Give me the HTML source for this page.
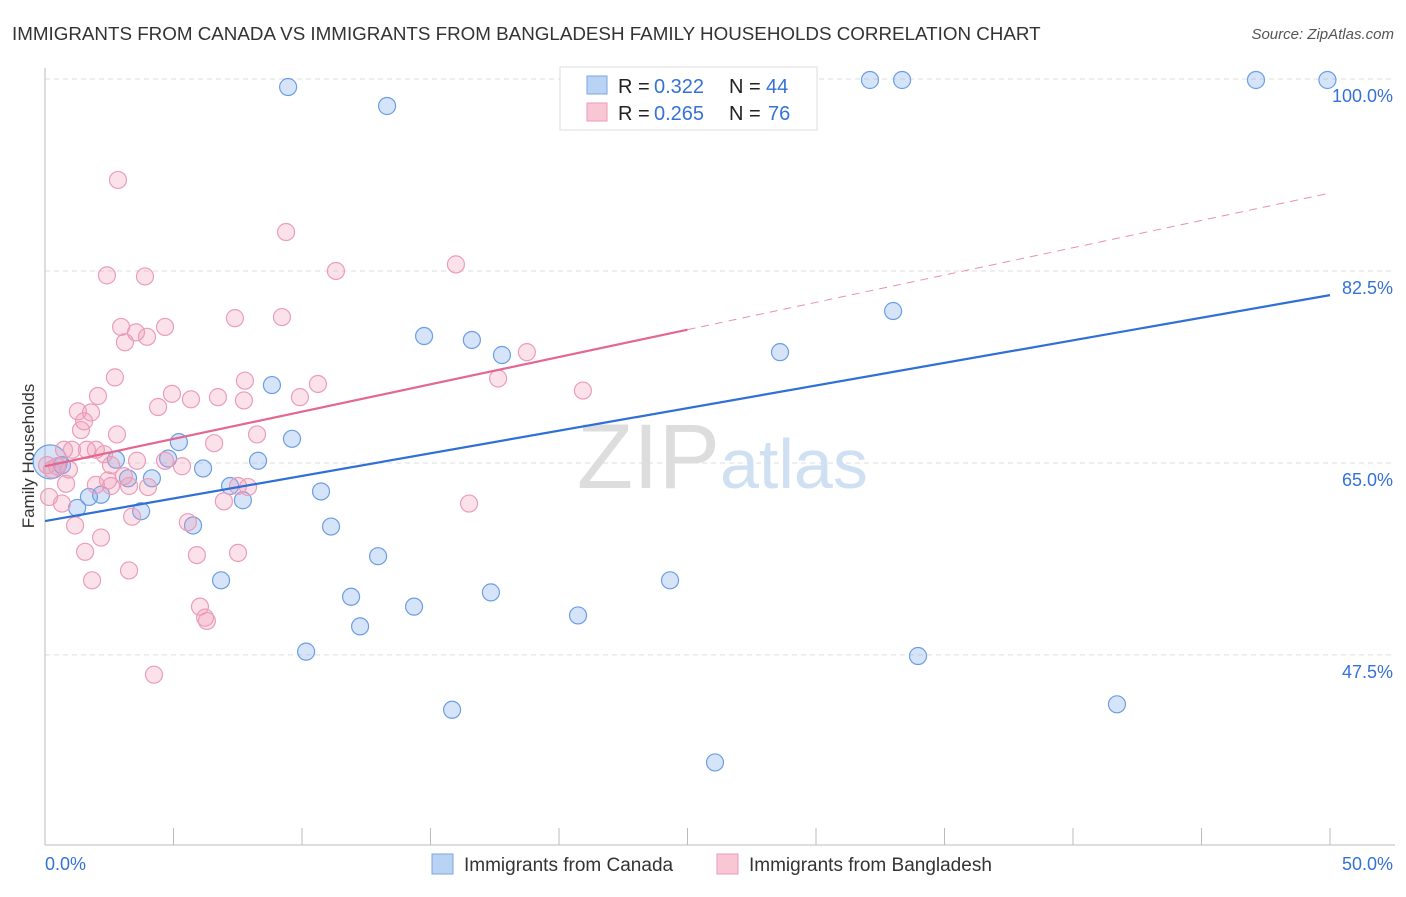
<!DOCTYPE html>
<html><head><meta charset="utf-8"><style>
body{margin:0;background:#fff;font-family:"Liberation Sans",sans-serif}
svg text{font-family:"Liberation Sans",sans-serif}
</style></head><body>
<svg id="chart" width="1406" height="892">
<text x="12" y="40" font-size="18.8" fill="#333">IMMIGRANTS FROM CANADA VS IMMIGRANTS FROM BANGLADESH FAMILY HOUSEHOLDS CORRELATION CHART</text>
<text x="1394" y="39" font-size="15" fill="#555" font-style="italic" text-anchor="end">Source: ZipAtlas.com</text>
<g id="grid"></g>
<text x="720" y="488" font-size="92" fill="#ddd" text-anchor="end" font-family="Liberation Serif">ZIP</text>
<text x="720" y="488" font-size="70" fill="#cfe0f3">atlas</text>
<g id="axes"></g>
<text x="34" y="456" font-size="17" fill="#333" text-anchor="middle" transform="rotate(-90 34 456)">Family Households</text>
<g id="marks"></g>
<g>
<rect x="560" y="67" width="257" height="63" fill="#fff" stroke="#ddd"/>
<rect x="587" y="76" width="20" height="18" fill="#b9d3f5" stroke="#7aa6e3"/>
<rect x="587" y="103" width="20" height="18" fill="#f9c6d5" stroke="#ee9ab6"/>
<text x="618" y="93" font-size="20" fill="#222">R = <tspan x="654" fill="#3572d6">0.322</tspan><tspan x="729">N = </tspan><tspan x="766" fill="#3572d6">44</tspan></text>
<text x="618" y="120" font-size="20" fill="#222">R = <tspan x="654" fill="#3572d6">0.265</tspan><tspan x="729">N = </tspan><tspan x="768" fill="#3572d6">76</tspan></text>
</g>
<g>
<rect x="432" y="854" width="21" height="20" fill="#b9d3f5" stroke="#7aa6e3"/>
<text x="464" y="871" font-size="19" fill="#333">Immigrants from Canada</text>
<rect x="717" y="854" width="21" height="20" fill="#f9c6d5" stroke="#ee9ab6"/>
<text x="749" y="871" font-size="19" fill="#333">Immigrants from Bangladesh</text>
</g>
</svg>
<script>
const yTicks=[100,82.5,65,47.5];
const yTickLabels=["100.0%","82.5%","65.0%","47.5%"];
const xTickLabels=["0.0%","50.0%"];
const canadaX=[9.46,13.31,32.10,33.35,47.12,49.9,33.0,14.75,16.61,17.78,28.6,8.83,9.61,5.21,4.79,8.29,2.76,6.15,4.16,3.23,7.2,7.7,10.74,2.18,1.71,1.25,3.74,5.76,11.13,12.96,6.85,24.32,17.35,11.91,14.36,20.74,12.26,10.16,33.97,15.84,41.71,26.07,0.2,0.66];
const canadaY=[99.27,97.54,99.91,99.91,99.91,99.91,78.85,76.57,76.21,74.84,75.1,72.1,67.2,66.9,65.4,65.2,65.3,64.5,63.6,63.6,62.9,61.6,62.4,62.1,61.9,60.9,60.6,59.3,59.2,56.5,54.3,54.3,53.2,52.8,51.9,51.1,50.1,47.8,47.4,42.5,43.0,37.7,65.1,64.8];
const bangX=[2.84,9.38,11.32,15.99,2.41,3.89,7.39,9.22,2.96,4.67,3.54,3.97,3.11,18.75,17.63,20.93,2.72,7.78,10.62,2.06,4.94,6.73,5.68,7.74,9.92,4.40,1.28,1.79,1.52,1.40,2.80,8.25,6.58,0.74,1.05,1.63,1.98,2.30,4.67,3.58,2.57,5.33,0.93,0.47,0.08,3.07,2.45,1.98,2.57,3.27,4.01,7.51,7.9,0.82,0.16,0.66,6.96,16.5,3.39,1.17,5.56,2.18,1.56,5.91,7.51,1.83,3.27,6.03,6.23,6.30,4.24,0.27];
const bangY=[90.8,86.05,82.5,83.1,82.1,82.0,78.2,78.3,77.4,77.4,76.9,76.5,76.0,75.1,72.7,71.6,72.8,72.5,72.2,71.1,71.3,71.0,70.8,70.7,71.0,70.1,69.7,69.6,68.8,68.0,67.6,67.6,66.8,66.2,66.2,66.2,66.2,65.8,65.2,65.2,64.8,64.7,64.4,64.7,64.8,63.8,63.4,63.0,62.9,62.9,62.8,62.9,62.8,63.1,61.9,61.3,61.5,61.3,60.1,59.3,59.6,58.2,56.9,56.6,56.8,54.3,55.2,51.9,50.9,50.6,45.7,64.4];
const canadaTrend=[59.7,80.3];
const bangTrend=[64.7,89.6];
const NS='http://www.w3.org/2000/svg';
const X=v=>45+v*25.7;
const Y=v=>79+(100-v)*10.97;
function mk(parent,tag,attrs){const e=document.createElementNS(NS,tag);for(const k in attrs)e.setAttribute(k,attrs[k]);document.getElementById(parent).appendChild(e);return e;}
yTicks.forEach((t,i)=>{
 const l=mk('grid','line',{x1:45,x2:1395,y1:Y(t),y2:Y(t),stroke:'#ddd','stroke-dasharray':'5,4'});
 
 
 const tx=mk('grid','text',{x:1393,y:Y(t)+23,'font-size':18,fill:'#3572d6','text-anchor':'end'});
 tx.textContent=yTickLabels[i];
 
 
});
mk('axes','line',{x1:45,x2:45,y1:68,y2:845,stroke:'#bbb'});
mk('axes','line',{x1:45,x2:1395,y1:845,y2:845,stroke:'#bbb'});
for(let i=1;i<=10;i++){const t=mk('axes','line',{x1:X(i*5),x2:X(i*5),y1:828,y2:845,stroke:'#bbb'});
 
 }
const xl0=mk('axes','text',{x:45,y:870,'font-size':18,fill:'#3572d6'});xl0.textContent=xTickLabels[0];

const xl1=mk('axes','text',{x:1393,y:870,'font-size':18,fill:'#3572d6','text-anchor':'end'});xl1.textContent=xTickLabels[1];

canadaX.forEach((x,i)=>{const c=mk('marks','circle',{cx:X(x),cy:Y(canadaY[i]),r:i==42?17:8.5,fill:'rgba(120,165,235,0.3)',stroke:'#6c9ee3','stroke-width':1.2});
 
 });
bangX.forEach((x,i)=>{const c=mk('marks','circle',{cx:X(x),cy:Y(bangY[i]),r:8.5,fill:'rgba(242,150,180,0.28)',stroke:'#eb9db8','stroke-width':1.2});
 
 });
const tb=mk('marks','line',{x1:X(0),y1:Y(canadaTrend[0]),x2:X(50),y2:Y(canadaTrend[1]),stroke:'#2f6fd6','stroke-width':2.2});


const mid=bangTrend[0]+(bangTrend[1]-bangTrend[0])*0.5;
const tp=mk('marks','line',{x1:X(0),y1:Y(bangTrend[0]),x2:X(25),y2:Y(mid),stroke:'#e4678f','stroke-width':2.2});


const td=mk('marks','line',{x1:X(25),y1:Y(mid),x2:X(50),y2:Y(bangTrend[1]),stroke:'#e891ad','stroke-width':1,'stroke-dasharray':'8,6'});


</script>
</body></html>
